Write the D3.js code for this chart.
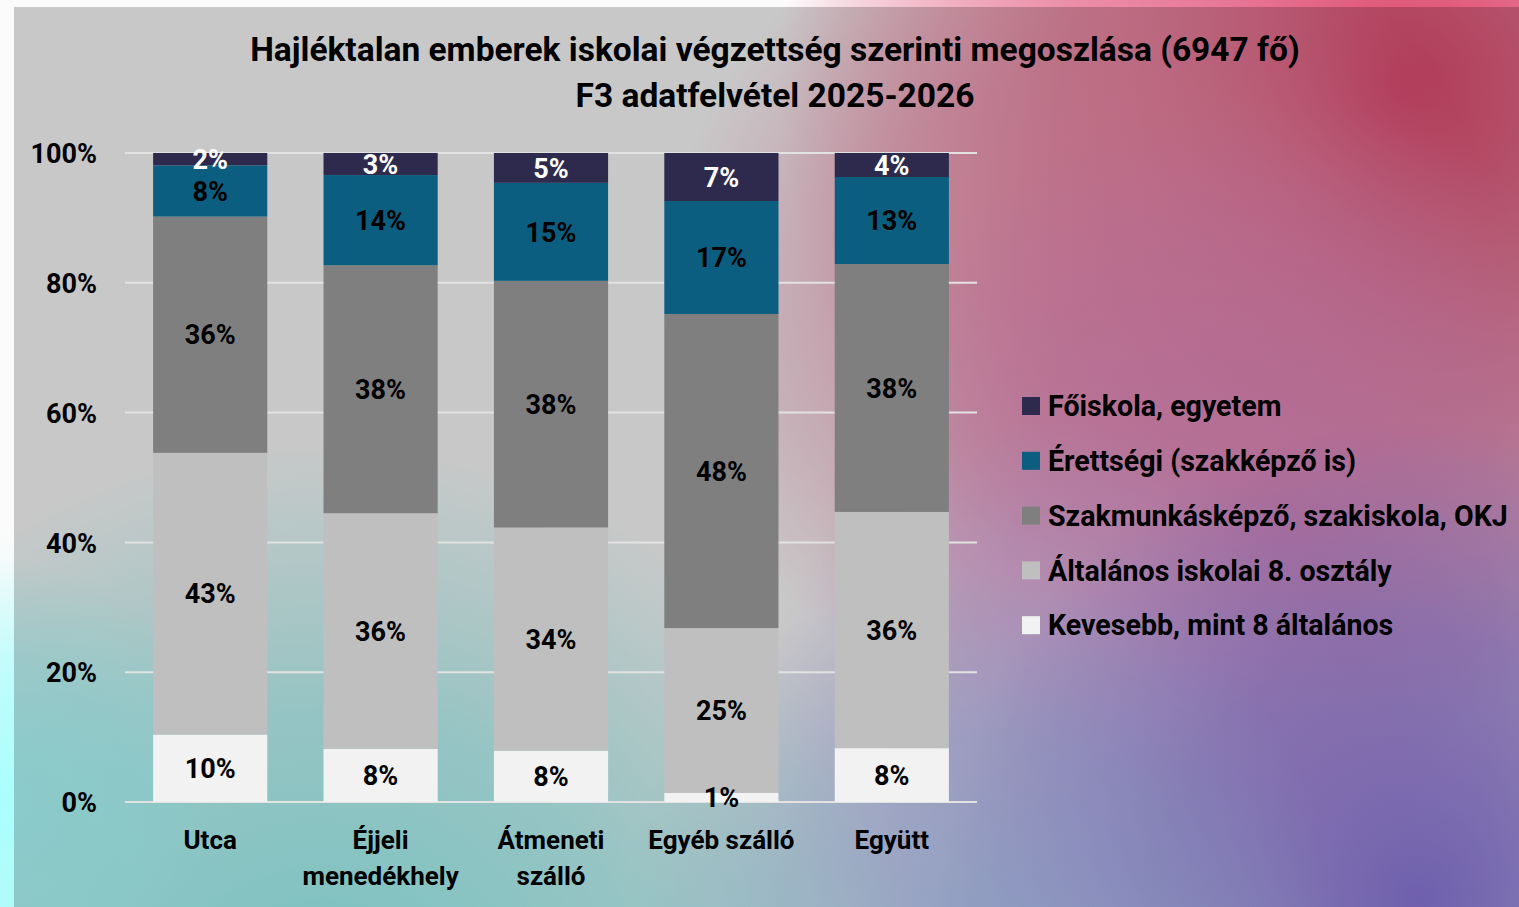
<!DOCTYPE html>
<html>
<head>
<meta charset="utf-8">
<script src="https://cdn.jsdelivr.net/npm/d3@7"></script>
<style>
  body { margin: 0; background: #ffffff; }
  svg { display: block; }
  text { font-family: Roboto, "Noto Sans", sans-serif; font-weight: 700; }
</style>
</head>
<body>
<svg></svg>
<script>
let width = 1519
let height = 907

let categories = [
  ["Utca"],
  ["Éjjeli", "menedékhely"],
  ["Átmeneti", "szálló"],
  ["Egyéb szálló"],
  ["Együtt"],
]

// series from bottom to top of each bar (percent)
let seriesNames = [
  "Kevesebb, mint 8 általános",
  "Általános iskolai 8. osztály",
  "Szakmunkásképző, szakiskola, OKJ",
  "Érettségi (szakképző is)",
  "Főiskola, egyetem",
]
let kevesebb = [10.4, 8.2, 7.9, 1.4, 8.3]
let altalanos = [43.4, 36.3, 34.4, 25.4, 36.4]
let szakmunkas = [36.4, 38.2, 38.0, 48.4, 38.2]
let erettsegi = [7.9, 13.9, 15.1, 17.4, 13.4]
let foiskola = [1.9, 3.4, 4.6, 7.4, 3.7]

let colors = ["#f2f2f2", "#bfbfbf", "#7f7f7f", "#0b5e7f", "#2d2a4e"]
let labelColors = ["#000", "#000", "#000", "#000", "#fff"]

let yTicks = [0, 20, 40, 60, 80, 100]

let svg = d3.select('svg')
  .attr('width', width)
  .attr('height', height)

let defs = svg.append('defs')

// ---- background (watercolour-ish) ----
let blobs = [
  { id: "gPink", cx: 1400, cy: 90, r: 620, c: "#dc3f66", o: 0.95 },
  { id: "gRose", cx: 1080, cy: 300, r: 420, c: "#f08cae", o: 0.8 },
  { id: "gMauve", cx: 1260, cy: 540, r: 440, c: "#dc85c0", o: 0.8 },
  { id: "gLav", cx: 1060, cy: 720, r: 300, c: "#d2b4f0", o: 0.6 },
  { id: "gPurple", cx: 1420, cy: 900, r: 480, c: "#8572d8", o: 0.95 },
  { id: "gBlue", cx: 980, cy: 930, r: 360, c: "#9cb8f0", o: 0.7 },
  { id: "gTeal", cx: 320, cy: 1040, r: 600, c: "#8cf2f0", o: 0.95 },
  { id: "gCyan", cx: 0, cy: 800, r: 240, c: "#a8ffff", o: 0.9 },
]

blobs.forEach((b) => {
  let g = defs.append('radialGradient').attr('id', b.id)
  g.append('stop').attr('offset', '0%').attr('stop-color', b.c).attr('stop-opacity', b.o)
  g.append('stop').attr('offset', '55%').attr('stop-color', b.c).attr('stop-opacity', b.o * 0.6)
  g.append('stop').attr('offset', '100%').attr('stop-color', b.c).attr('stop-opacity', 0)
})

svg.append('rect')
  .attr('width', width)
  .attr('height', height)
  .attr('fill', '#fbfbfb')

svg.selectAll('circle.blob')
  .data(blobs)
  .enter()
  .append('circle')
  .attr('class', 'blob')
  .attr('cx', (b) => b.cx)
  .attr('cy', (b) => b.cy)
  .attr('r', (b) => b.r)
  .attr('fill', (b) => "url(#" + b.id + ")")

// darker chart area on top of the picture
svg.append('rect')
  .attr('x', 14)
  .attr('y', 7)
  .attr('width', width - 14)
  .attr('height', height - 7)
  .attr('fill', 'rgba(0,0,0,0.2)')

// ---- scales ----
let xScale = d3.scaleBand()
  .domain(d3.range(categories.length))
  .range([125, 977])
  .paddingInner(0.33)
  .paddingOuter(0.165)

let yScale = d3.scaleLinear()
  .domain([0, 100])
  .range([802, 153])

// ---- gridlines and y axis ----
svg.append('g')
  .selectAll('line')
  .data(yTicks)
  .enter()
  .append('line')
  .attr('x1', 125)
  .attr('x2', 977)
  .attr('y1', (d) => yScale(d))
  .attr('y2', (d) => yScale(d))
  .attr('stroke', '#e2e2e2')
  .attr('stroke-width', 2)

let yAxis = d3.axisLeft(yScale)
  .tickValues(yTicks)
  .tickFormat((d) => d + "%")
  .tickSize(0)
  .tickPadding(0)

svg.append('g')
  .attr('transform', 'translate(97, 0)')
  .call(yAxis)
  .call((g) => g.select('.domain').remove())
  .selectAll('text')
  .attr('font-size', '27px')
  .attr('font-family', 'Roboto, sans-serif')
  .attr('font-weight', 700)
  .attr('fill', '#000')
  .attr('dy', '0.36em')

// ---- stacked bars ----
let rows = categories.map((c, i) => [kevesebb[i], altalanos[i], szakmunkas[i], erettsegi[i], foiskola[i]])
let keys = d3.range(seriesNames.length)
let stacked = d3.stack().keys(keys)(rows)

let layers = svg.append('g')
  .selectAll('g')
  .data(stacked)
  .enter()
  .append('g')
  .attr('fill', (s, i) => colors[i])

layers.selectAll('rect')
  .data((s) => s.map((d, j) => ({ d: d, j: j })))
  .enter()
  .append('rect')
  .attr('x', (p) => xScale(p.j))
  .attr('width', xScale.bandwidth())
  .attr('y', (p) => yScale(p.d[1]))
  .attr('height', (p) => yScale(p.d[0]) - yScale(p.d[1]))

let labels = svg.append('g')
  .selectAll('g')
  .data(stacked)
  .enter()
  .append('g')
  .attr('fill', (s, i) => labelColors[i])

labels.selectAll('text')
  .data((s) => s.map((d, j) => ({ d: d, j: j })))
  .enter()
  .append('text')
  .attr('x', (p) => xScale(p.j) + xScale.bandwidth() / 2)
  .attr('y', (p) => (yScale(p.d[0]) + yScale(p.d[1])) / 2)
  .attr('dy', '0.36em')
  .attr('text-anchor', 'middle')
  .attr('font-size', '27px')
  .text((p) => Math.round(p.d[1] - p.d[0]) + "%")

// ---- category labels ----
let xLabels = svg.append('g')
  .selectAll('text')
  .data(categories)
  .enter()
  .append('text')
  .attr('x', (c, i) => xScale(i) + xScale.bandwidth() / 2)
  .attr('y', 849)
  .attr('text-anchor', 'middle')
  .attr('font-size', '26px')
  .attr('fill', '#000')

xLabels.selectAll('tspan')
  .data((c) => c)
  .enter()
  .append('tspan')
  .attr('x', function () { return d3.select(this.parentNode).attr('x') })
  .attr('dy', (t, k) => k === 0 ? 0 : 36)
  .text((t) => t)

// ---- title ----
let fitText = (sel, target) => {
  let len = sel.node().getComputedTextLength()
  let size = parseFloat(sel.attr('font-size'))
  sel.attr('font-size', (size * target / len).toFixed(2) + 'px')
}

let title1 = svg.append('text')
  .attr('x', 775)
  .attr('y', 61)
  .attr('text-anchor', 'middle')
  .attr('font-size', '31px')
  .attr('fill', '#000')
  .text('Hajléktalan emberek iskolai végzettség szerinti megoszlása (6947 fő)')
fitText(title1, 1050)

let title2 = svg.append('text')
  .attr('x', 775)
  .attr('y', 107)
  .attr('text-anchor', 'middle')
  .attr('font-size', title1.attr('font-size'))
  .attr('fill', '#000')
  .text('F3 adatfelvétel 2025-2026')

// ---- legend ----
let legendOrder = [4, 3, 2, 1, 0]
let legend = svg.append('g')
  .selectAll('g')
  .data(legendOrder)
  .enter()
  .append('g')
  .attr('transform', (k, i) => 'translate(1022, ' + (406 + i * 54.8) + ')')

legend.append('rect')
  .attr('x', 0)
  .attr('y', -9)
  .attr('width', 18)
  .attr('height', 18)
  .attr('fill', (k) => colors[k])

let legendText = legend.append('text')
  .attr('x', 26)
  .attr('dy', '0.36em')
  .attr('font-size', '27px')
  .attr('fill', '#000')
  .text((k) => seriesNames[k])

let longest = legendText.filter((k) => k === 2)
let scale = 460 / longest.node().getComputedTextLength()
legendText.attr('font-size', (27 * scale).toFixed(2) + 'px')
</script>
</body>
</html>
